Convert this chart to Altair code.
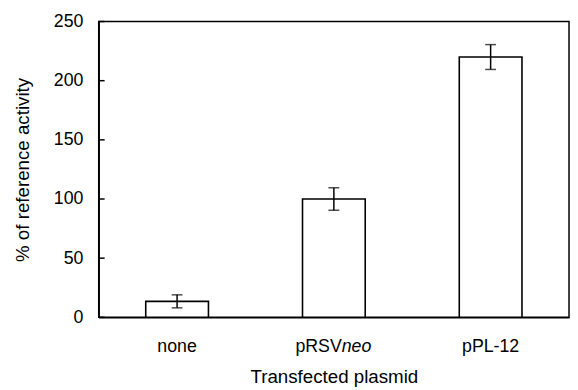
import altair as alt
import pandas as pd

categories = ["none", "pRSVneo", "pPL-12"]
values = [13.5, 100, 220]
errors = [5.5, 9.5, 10.5]
y_ticks = [0, 50, 100, 150, 200, 250]

df = pd.DataFrame({"plasmid": categories, "value": values, "err": errors})
df["lo"] = df["value"] - df["err"]
df["hi"] = df["value"] + df["err"]

W, H = 477, 300
FONT = "Liberation Sans"
FS = 18
TFS = 19
LABEL_PAD = 21

xenc = alt.X(
    "plasmid:N",
    sort=categories,
    scale=alt.Scale(paddingInner=0.6, paddingOuter=0.3),
    axis=alt.Axis(
        title="Transfected plasmid",
        ticks=False,
        labelAngle=0,
        labelPadding=LABEL_PAD,
        labelExpr="datum.value == 'pRSVneo' ? '' : datum.value",
        titlePadding=12,
    ),
)
yscale = alt.Scale(domain=[0, 250], nice=False)
yenc = alt.Y(
    "value:Q",
    scale=yscale,
    axis=alt.Axis(
        values=y_ticks,
        ticks=False,
        labelPadding=16,
        grid=False,
        title="% of reference activity",
        titlePadding=21,
    ),
)

base = alt.Chart(df)
bars = base.mark_bar(fill="white", stroke="black", strokeWidth=1.6).encode(x=xenc, y=yenc)
rules = base.mark_rule(color="black", strokeWidth=1.5).encode(
    x=alt.X("plasmid:N", sort=categories), y=alt.Y("lo:Q"), y2="hi:Q"
)
cap_lo = base.mark_tick(color="black", size=11, thickness=1.5).encode(
    x=alt.X("plasmid:N", sort=categories), y=alt.Y("lo:Q")
)
cap_hi = base.mark_tick(color="black", size=11, thickness=1.5).encode(
    x=alt.X("plasmid:N", sort=categories), y=alt.Y("hi:Q")
)

tick_df = pd.DataFrame({"value": y_ticks})
inner_ticks = alt.Chart(tick_df).mark_rule(color="black", strokeWidth=1.5).encode(
    y=alt.Y("value:Q"), x=alt.value(0), x2=alt.value(6)
)

lab_df = pd.DataFrame({"plasmid": ["pRSVneo"], "a": ["pRSV"], "b": ["neo"]})
lab_a = alt.Chart(lab_df).mark_text(
    align="right", baseline="top", dx=8, fontSize=FS, font=FONT, color="black"
).encode(x=alt.X("plasmid:N", sort=categories), y=alt.value(H + LABEL_PAD), text="a:N")
lab_b = alt.Chart(lab_df).mark_text(
    align="left", baseline="top", dx=8, fontSize=FS, font=FONT, fontStyle="italic", color="black"
).encode(x=alt.X("plasmid:N", sort=categories), y=alt.value(H + LABEL_PAD), text="b:N")

chart = (
    alt.layer(bars, rules, cap_lo, cap_hi, inner_ticks, lab_a, lab_b)
    .properties(
        width=W,
        height=H,
        autosize=alt.AutoSizeParams(type="none"),
        padding={"left": 92, "top": 11, "right": 1, "bottom": 71},
    )
    .configure_view(stroke="black", strokeWidth=1.5)
    .configure_axis(
        domainColor="black",
        domainWidth=1.5,
        labelColor="black",
        titleColor="black",
        labelFont=FONT,
        titleFont=FONT,
        labelFontSize=FS,
        titleFontSize=TFS,
        titleFontWeight="normal",
    )
)

chart.save("out.html", embed_options={"renderer": "svg", "actions": False})
